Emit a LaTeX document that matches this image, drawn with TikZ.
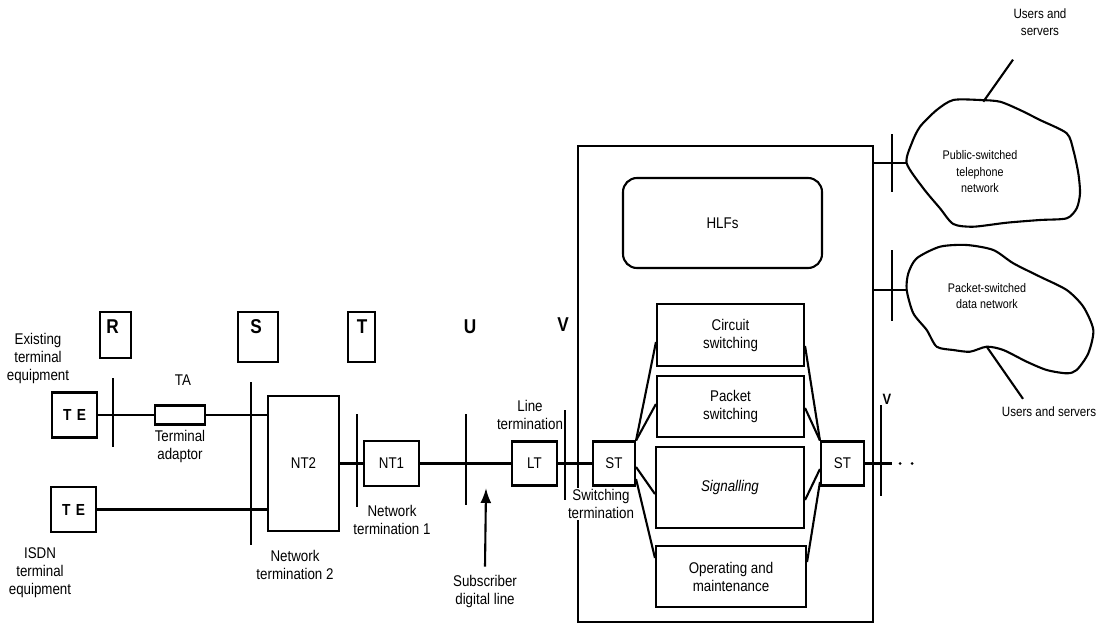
\documentclass[tikz,border=0pt]{standalone}
\usepackage{fontspec}
\setmainfont{Liberation Sans}[FakeStretch=0.86]
\usetikzlibrary{arrows.meta}
\begin{document}
\begin{tikzpicture}[x=1pt,y=-1pt,
  ln/.style={line width=2.1pt},
  box/.style={draw,line width=2.1pt,inner sep=0pt,font=\fontsize{15.5}{18}\selectfont},
  lbl/.style={align=center,inner sep=0pt,font=\fontsize{15.5}{18}\selectfont},
  clbl/.style={align=center,inner sep=0pt,font=\fontsize{12.5}{16.5}\selectfont},
  big/.style={inner sep=0pt,font=\fontsize{20}{20}\bfseries\selectfont},
  tebox/.style={box,minimum width=45pt,minimum height=45pt,font=\fontsize{16}{16}\bfseries\selectfont},
  arr/.style={ln,-{Latex[length=15pt,width=11pt]}}]
\useasboundingbox (0,0) rectangle (1110,626);

% interface boxes R S T
\node[box,minimum width=31pt,minimum height=46pt] (rbox) at (115.5,335) {};
\node[big] (rl) at (112.5,327) {R};
\node[box,minimum width=40pt,minimum height=50pt] (sbox) at (258,337) {};
\node[big] (sl) at (256,327) {S};
\node[box,minimum width=27pt,minimum height=50pt] (tbox) at (361.5,337) {};
\node[big] (tl) at (362,327) {T};
\node[big] (ul) at (470,327) {U};
\node[big] (vl) at (563,325) {V};

% left equipment
\node[tebox] (te1) at (74.5,415) {T\,\,E};
\node[tebox] (te2) at (73.5,509.5) {T\,\,E};
\node[box,minimum width=50pt,minimum height=19pt] (ta) at (180,415) {};
\node[box,minimum width=71pt,minimum height=135pt] (nt2) at (303.5,463.5) {NT2};
\node[box,minimum width=55pt,minimum height=45pt] (nt1) at (391.5,463.5) {NT1};
\node[box,minimum width=45pt,minimum height=44pt] (lt) at (534.5,463.5) {LT};

% exchange
\node[box,minimum width=295pt,minimum height=476pt] (bigbox) at (725.5,384) {};
\node[box,minimum width=199pt,minimum height=90pt,rounded corners=14pt] (hlf) at (722.5,223) {HLFs};
\node[box,minimum width=147pt,minimum height=62pt,align=center] (cs) at (730.5,335) {Circuit\\switching};
\node[box,minimum width=147pt,minimum height=61pt,align=center] (ps) at (730.5,406.5) {Packet\\switching};
\node[box,minimum width=148pt,minimum height=81pt,font=\fontsize{15.5}{18}\itshape\selectfont] (sg) at (730,487.5) {Signalling};
\node[box,minimum width=150pt,minimum height=61pt,align=center] (om) at (731,576.5) {Operating and\\maintenance};
\node[box,minimum width=42pt,minimum height=44pt] (stl) at (614,463.5) {ST};
\node[box,minimum width=43pt,minimum height=44pt] (str) at (842.5,463.5) {ST};

% labels
\node[lbl] (lexist) at (38,358) {Existing\\terminal\\equipment};
\node[lbl] (lta) at (183,380) {TA};
\node[lbl] (ltad) at (180,446) {Terminal\\adaptor};
\node[lbl] (lisdn) at (40,573) {ISDN\\terminal\\equipment};
\node[lbl] (lnt2) at (295,565) {Network\\termination 2};
\node[lbl] (lnt1) at (392,519.5) {Network\\termination 1};
\node[lbl] (llt) at (530,414.5) {Line\\termination};
\node[lbl] (sdl) at (485,591) {Subscriber\\digital line};
\node[lbl,fill=white,inner sep=1pt] (lswt) at (601,504) {Switching\\termination};
\node[inner sep=0pt,font=\fontsize{15}{15}\bfseries\selectfont] (vr) at (887,399) {V};
\node[lbl,font=\fontsize{13.5}{17}\selectfont] (us1) at (1040,22) {Users and\\servers};
\node[lbl,font=\fontsize{13.5}{17}\selectfont] (us2) at (1049,412) {Users and servers};

% connections left
\draw[ln] (te1) -- (ta);
\draw[ln] (ta) -- (ta -| nt2.west);
\draw[ln] (te2) -- (te2 -| nt2.west);
\draw[ln] (nt2) -- (nt1) -- (lt) -- (stl);
\draw[ln] (str) -- (892,463.5);
\fill (900,463.5) circle (1.5pt) (912,463.5) circle (1.5pt);

% interface ticks
\draw[ln] (113,378) -- (113,447);
\draw[ln] (251,382) -- (251,545);
\draw[ln] (357,414) -- (357,507);
\draw[ln] (466,414) -- (466,505);
\draw[ln] (565,410) -- (565,500);
\draw[ln] (881,405) -- (881,496);
\draw[ln] (892,134) -- (892,192);
\draw[ln] (892,250) -- (892,321);

% subscriber arrow
\coordinate (atip) at (486,488);
\draw[arr] ([yshift=8pt]sdl.north) -- (atip);

% fan lines
\draw[ln] (stl.north east) -- (cs.west |- 0,342);
\draw[ln] (stl.north east) -- (ps.west |- 0,404);
\draw[ln] (stl.east |- 0,467) -- (sg.west |- 0,494);
\draw[ln] (stl.east |- 0,479) -- (om.west |- 0,558);
\draw[ln] (str.north west) -- (cs.east |- 0,346);
\draw[ln] (str.north west) -- (ps.east |- 0,408);
\draw[ln] (str.west |- 0,469) -- (sg.east |- 0,500);
\draw[ln] (str.west |- 0,482) -- (om.east |- 0,562);

% clouds
\coordinate (c1) at (906.7,163.3);
\coordinate (c2) at (906.7,290);
\draw[ln] plot[smooth cycle,tension=0.45] coordinates {
 (906.7,163.3) (911.7,143.3) (920,126.7) (936.7,110) (953.3,100) (980,100)
 (1000,101.7) (1020,110) (1040,120) (1066.7,133.3) (1073.3,150) (1078.3,173.3)
 (1080,193.3) (1076.7,208.3) (1066.7,218.3) (1040,220) (1006.7,222.7)
 (973.3,226.7) (953.3,224) (940,208.3) (923.3,188.3)};
\draw[ln] plot[smooth cycle,tension=0.45] coordinates {
 (906.7,290) (908.3,273.3) (916.7,258.3) (940,246.7) (966.7,245) (993.3,250)
 (1013.3,263.3) (1040,276.7) (1066.7,290) (1083.3,306.7) (1093.3,330)
 (1088.3,353.3) (1076.7,370) (1066.7,373.3) (1046.7,370) (1026.7,361.7)
 (1003.3,350) (986.7,346.7) (970,351.7) (953.3,350) (936.7,346.7)
 (926.7,330) (913.3,313.3)};
\node[clbl] (pstn) at (980,171.7) {Public-switched\\telephone\\network};
\node[clbl] (psdn) at (987,296) {Packet-switched\\data network};
\draw[ln] (bigbox.east |- c1) -- (c1);
\draw[ln] (bigbox.east |- c2) -- (c2);
\draw[ln] (983.3,101.7) -- ([shift={(-27pt,-24pt)}]us1.south);
\draw[ln] (986.7,346.7) -- ([shift={(-26pt,8pt)}]us2.north);
\end{tikzpicture}
\end{document}
